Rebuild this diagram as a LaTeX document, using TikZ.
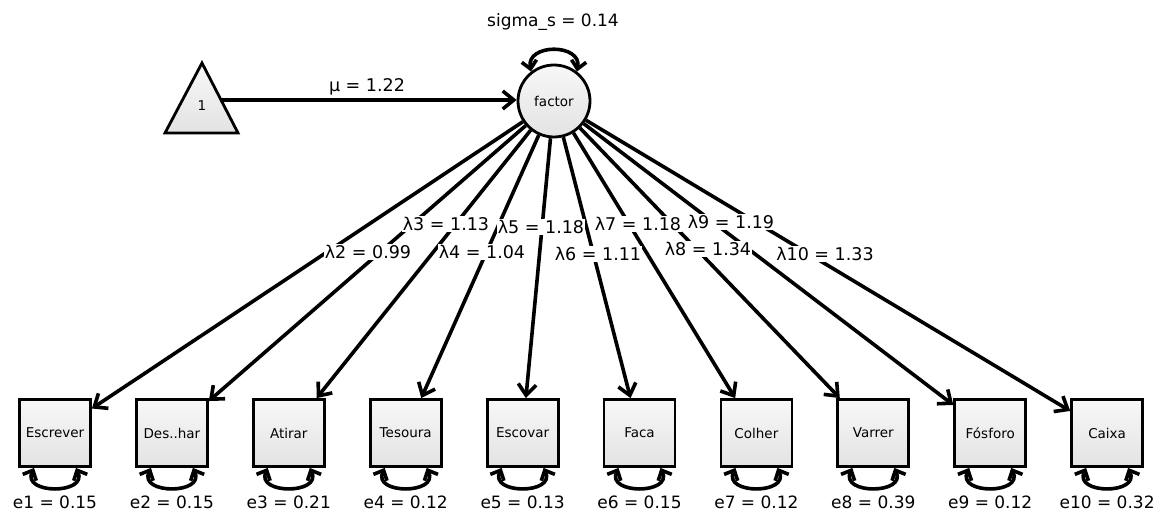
\documentclass[tikz,border=0pt]{standalone}
\usepackage{fontspec}
\setmainfont{DejaVu Sans}
\usetikzlibrary{arrows.meta}
\begin{document}
\begin{tikzpicture}[x=1pt,y=1pt,
  nodefill/.style={top color=black!3,bottom color=black!11},
  lat/.style={circle,draw,line width=2.8pt,nodefill,minimum size=72pt,inner sep=0pt,font=\fontsize{13.5}{15}\selectfont},
  obs/.style={rectangle,draw,line width=2.8pt,nodefill,minimum width=71pt,minimum height=67pt,inner sep=0pt,font=\fontsize{13.5}{15}\selectfont},
  load/.style={line width=3.6pt,-{Straight Barb[length=11pt,width=18pt]}},
  var/.style={line width=3.6pt,{Straight Barb[length=8pt,width=15pt]}-{Straight Barb[length=8pt,width=15pt]}},
  lbl/.style={fill=white,inner sep=0.8pt,font=\fontsize{17.5}{19}\selectfont},
  txt/.style={inner sep=0.5pt,font=\fontsize{17}{19}\selectfont}
]
\useasboundingbox (0,0) rectangle (1158,-513);

% latent factor
\node[lat] (factor) at (554,-101) {factor};

% constant triangle
\draw[line width=2.8pt,nodefill,line join=miter] (202,-63) -- (238,-133) -- (165,-133) -- cycle;
\node[font=\fontsize{13.5}{15}\selectfont] (one) at (202,-106) {1};
\coordinate (tri) at (221,-100);
\draw[load] (tri) -- (factor.west|-tri);
\node[lbl] (mu) at (367,-87) {μ = 1.22};

% factor variance
\draw[var] (factor.128) to[out=100,in=80,looseness=1.6] (factor.52);
\node[txt] (sig) at (553,-22) {sigma\_s = 0.14};

% observed variables
\foreach \i/\name/\e in {0/Escrever/0.15,1/Des..har/0.15,2/Atirar/0.21,3/Tesoura/0.12,4/Escovar/0.13,5/Faca/0.15,6/Colher/0.12,7/Varrer/0.39,8/Fósforo/0.12,9/Caixa/0.32}{
  \pgfmathsetmacro{\cx}{55+116.9*\i}
  \node[obs] (b\i) at (\cx,-433) {\name};
  \draw[load] (factor) -- (b\i);
  \draw[var] ([xshift=-21pt]b\i.south) to[out=-115,in=-65,looseness=1.8] ([xshift=21pt]b\i.south);
  \pgfmathtruncatemacro{\k}{\i+1}
  \node[txt] (e\i) at (\cx,-502) {e\k{} = \e};
}

% loading labels
\node[lbl] (l2) at (368,-252) {λ2 = 0.99};
\node[lbl] (l3) at (446,-224) {λ3 = 1.13};
\node[lbl] (l4) at (482,-252) {λ4 = 1.04};
\node[lbl] (l5) at (541,-227) {λ5 = 1.18};
\node[lbl] (l6) at (598,-254) {λ6 = 1.11};
\node[lbl] (l7) at (638,-224) {λ7 = 1.18};
\node[lbl] (l8) at (708,-249) {λ8 = 1.34};
\node[lbl] (l9) at (731,-222) {λ9 = 1.19};
\node[lbl] (l10) at (825,-254) {λ10 = 1.33};
\end{tikzpicture}
\end{document}
